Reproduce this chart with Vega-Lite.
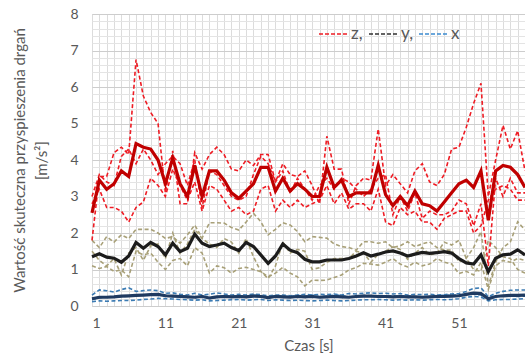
{
  "$schema": "https://vega.github.io/schema/vega-lite/v6.json",
  "width": 433,
  "height": 292,
  "autosize": {"type": "none"},
  "padding": {"left": 92, "top": 14, "right": 0, "bottom": 50},
  "background": "white",
  "config": {
    "font": "Lato",
    "view": {"stroke": "#d4d4d4", "strokeWidth": 1},
    "axis": {"labelColor": "#595959", "titleColor": "#595959", "labelFontSize": 14, "titleFontSize": 15, "titleFontWeight": "normal", "ticks": false, "domain": false}
  },
  "data": {"values": [
    {"t":1,"z1":1.8,"z2":3.0,"z3":2.8,"zm":2.55,"y1":1.8,"y2":1.5,"y3":1.1,"ym":1.35,"x1":0.3,"x2":0.18,"x3":0.12,"xm":0.2},
    {"t":2,"z1":3.55,"z2":3.6,"z3":3.2,"zm":3.45,"y1":1.6,"y2":1.25,"y3":1.03,"ym":1.43,"x1":0.44,"x2":0.22,"x3":0.14,"xm":0.24},
    {"t":3,"z1":3.55,"z2":3.4,"z3":2.7,"zm":3.2,"y1":1.9,"y2":1.1,"y3":1.08,"ym":1.34,"x1":0.42,"x2":0.25,"x3":0.13,"xm":0.24},
    {"t":4,"z1":4.2,"z2":3.3,"z3":2.7,"zm":3.35,"y1":1.75,"y2":1.3,"y3":0.95,"ym":1.31,"x1":0.38,"x2":0.24,"x3":0.14,"xm":0.25},
    {"t":5,"z1":4.35,"z2":4.1,"z3":2.6,"zm":3.7,"y1":1.95,"y2":0.85,"y3":0.99,"ym":1.2,"x1":0.45,"x2":0.26,"x3":0.15,"xm":0.27},
    {"t":6,"z1":4.15,"z2":4.3,"z3":2.3,"zm":3.55,"y1":1.85,"y2":1.45,"y3":0.8,"ym":1.37,"x1":0.5,"x2":0.27,"x3":0.15,"xm":0.28},
    {"t":7,"z1":6.75,"z2":3.9,"z3":2.7,"zm":4.45,"y1":2.1,"y2":1.6,"y3":1.5,"ym":1.74,"x1":0.4,"x2":0.3,"x3":0.16,"xm":0.29},
    {"t":8,"z1":5.75,"z2":4.3,"z3":2.85,"zm":4.35,"y1":2.1,"y2":1.25,"y3":1.4,"ym":1.58,"x1":0.42,"x2":0.31,"x3":0.18,"xm":0.3},
    {"t":9,"z1":5.3,"z2":4.0,"z3":3.5,"zm":4.3,"y1":2.1,"y2":1.65,"y3":1.45,"ym":1.74,"x1":0.44,"x2":0.3,"x3":0.19,"xm":0.31},
    {"t":10,"z1":5.0,"z2":3.6,"z3":3.3,"zm":4.0,"y1":2.0,"y2":1.7,"y3":1.2,"ym":1.63,"x1":0.42,"x2":0.33,"x3":0.21,"xm":0.32},
    {"t":11,"z1":3.1,"z2":3.9,"z3":3.0,"zm":3.35,"y1":1.85,"y2":1.3,"y3":1.0,"ym":1.4,"x1":0.35,"x2":0.29,"x3":0.2,"xm":0.28},
    {"t":12,"z1":4.25,"z2":4.1,"z3":3.75,"zm":4.05,"y1":1.9,"y2":2.0,"y3":1.25,"ym":1.72,"x1":0.36,"x2":0.26,"x3":0.19,"xm":0.27},
    {"t":13,"z1":2.8,"z2":3.9,"z3":3.3,"zm":3.35,"y1":1.72,"y2":1.45,"y3":1.3,"ym":1.49,"x1":0.32,"x2":0.28,"x3":0.18,"xm":0.26},
    {"t":14,"z1":2.8,"z2":3.3,"z3":2.9,"zm":3.0,"y1":1.95,"y2":1.7,"y3":1.1,"ym":1.58,"x1":0.3,"x2":0.27,"x3":0.17,"xm":0.25},
    {"t":15,"z1":4.2,"z2":4.0,"z3":3.4,"zm":3.85,"y1":2.22,"y2":2.1,"y3":1.6,"ym":1.97,"x1":0.35,"x2":0.22,"x3":0.16,"xm":0.24},
    {"t":16,"z1":3.75,"z2":2.7,"z3":2.6,"zm":3.0,"y1":1.86,"y2":1.85,"y3":1.45,"ym":1.72,"x1":0.3,"x2":0.28,"x3":0.17,"xm":0.26},
    {"t":17,"z1":4.15,"z2":3.7,"z3":3.3,"zm":3.7,"y1":2.28,"y2":1.7,"y3":0.9,"ym":1.63,"x1":0.32,"x2":0.2,"x3":0.14,"xm":0.22},
    {"t":18,"z1":4.35,"z2":3.6,"z3":3.2,"zm":3.7,"y1":2.28,"y2":1.6,"y3":1.1,"ym":1.67,"x1":0.36,"x2":0.24,"x3":0.15,"xm":0.25},
    {"t":19,"z1":4.15,"z2":3.3,"z3":2.9,"zm":3.45,"y1":2.27,"y2":1.85,"y3":1.05,"ym":1.72,"x1":0.33,"x2":0.28,"x3":0.16,"xm":0.26},
    {"t":20,"z1":3.75,"z2":3.0,"z3":2.6,"zm":3.1,"y1":2.15,"y2":1.75,"y3":0.9,"ym":1.6,"x1":0.3,"x2":0.27,"x3":0.17,"xm":0.25},
    {"t":21,"z1":3.7,"z2":2.9,"z3":2.7,"zm":2.95,"y1":2.08,"y2":1.45,"y3":1.03,"ym":1.52,"x1":0.32,"x2":0.28,"x3":0.18,"xm":0.26},
    {"t":22,"z1":4.0,"z2":3.0,"z3":2.5,"zm":3.15,"y1":2.3,"y2":1.85,"y3":1.06,"ym":1.74,"x1":0.3,"x2":0.27,"x3":0.16,"xm":0.25},
    {"t":23,"z1":3.85,"z2":3.6,"z3":2.6,"zm":3.35,"y1":2.54,"y2":1.35,"y3":1.0,"ym":1.63,"x1":0.33,"x2":0.3,"x3":0.17,"xm":0.27},
    {"t":24,"z1":4.15,"z2":4.1,"z3":3.2,"zm":3.8,"y1":2.31,"y2":0.95,"y3":0.94,"ym":1.4,"x1":0.31,"x2":0.28,"x3":0.18,"xm":0.26},
    {"t":25,"z1":4.15,"z2":3.9,"z3":3.3,"zm":3.8,"y1":1.95,"y2":0.75,"y3":0.8,"ym":1.17,"x1":0.28,"x2":0.24,"x3":0.15,"xm":0.23},
    {"t":26,"z1":3.4,"z2":3.4,"z3":2.6,"zm":3.15,"y1":2.1,"y2":1.1,"y3":0.9,"ym":1.37,"x1":0.3,"x2":0.29,"x3":0.17,"xm":0.26},
    {"t":27,"z1":3.9,"z2":3.7,"z3":2.9,"zm":3.5,"y1":2.28,"y2":1.75,"y3":1.06,"ym":1.7,"x1":0.3,"x2":0.27,"x3":0.16,"xm":0.25},
    {"t":28,"z1":3.6,"z2":3.1,"z3":2.7,"zm":3.15,"y1":2.22,"y2":1.45,"y3":0.9,"ym":1.53,"x1":0.28,"x2":0.26,"x3":0.15,"xm":0.24},
    {"t":29,"z1":3.55,"z2":3.5,"z3":2.9,"zm":3.35,"y1":2.04,"y2":1.55,"y3":0.8,"ym":1.46,"x1":0.3,"x2":0.29,"x3":0.16,"xm":0.26},
    {"t":30,"z1":3.7,"z2":3.2,"z3":2.7,"zm":3.2,"y1":1.76,"y2":1.5,"y3":0.55,"ym":1.28,"x1":0.32,"x2":0.27,"x3":0.15,"xm":0.25},
    {"t":31,"z1":3.3,"z2":2.9,"z3":2.8,"zm":3.0,"y1":1.9,"y2":1.0,"y3":0.71,"ym":1.21,"x1":0.3,"x2":0.3,"x3":0.14,"xm":0.26},
    {"t":32,"z1":2.8,"z2":3.3,"z3":2.9,"zm":3.0,"y1":1.88,"y2":1.05,"y3":0.7,"ym":1.21,"x1":0.32,"x2":0.25,"x3":0.15,"xm":0.24},
    {"t":33,"z1":4.65,"z2":3.5,"z3":3.3,"zm":3.8,"y1":1.86,"y2":1.2,"y3":0.71,"ym":1.26,"x1":0.31,"x2":0.27,"x3":0.16,"xm":0.25},
    {"t":34,"z1":3.75,"z2":3.2,"z3":2.8,"zm":3.25,"y1":1.7,"y2":1.3,"y3":0.78,"ym":1.26,"x1":0.33,"x2":0.3,"x3":0.15,"xm":0.26},
    {"t":35,"z1":3.75,"z2":3.5,"z3":3.1,"zm":3.45,"y1":1.63,"y2":1.3,"y3":0.85,"ym":1.26,"x1":0.3,"x2":0.29,"x3":0.14,"xm":0.25},
    {"t":36,"z1":2.8,"z2":3.4,"z3":2.65,"zm":3.0,"y1":1.6,"y2":1.3,"y3":0.99,"ym":1.3,"x1":0.34,"x2":0.24,"x3":0.15,"xm":0.24},
    {"t":37,"z1":3.3,"z2":3.2,"z3":2.8,"zm":3.1,"y1":1.53,"y2":1.5,"y3":1.05,"ym":1.37,"x1":0.33,"x2":0.28,"x3":0.16,"xm":0.26},
    {"t":38,"z1":3.5,"z2":3.0,"z3":2.8,"zm":3.1,"y1":1.76,"y2":1.45,"y3":1.17,"ym":1.46,"x1":0.35,"x2":0.29,"x3":0.17,"xm":0.27},
    {"t":39,"z1":3.45,"z2":3.2,"z3":2.6,"zm":3.1,"y1":1.76,"y2":1.2,"y3":1.15,"ym":1.37,"x1":0.36,"x2":0.28,"x3":0.17,"xm":0.27},
    {"t":40,"z1":4.85,"z2":3.5,"z3":3.2,"zm":3.85,"y1":1.72,"y2":1.42,"y3":1.12,"ym":1.42,"x1":0.34,"x2":0.26,"x3":0.18,"xm":0.26},
    {"t":41,"z1":3.3,"z2":3.6,"z3":2.3,"zm":3.05,"y1":1.76,"y2":1.5,"y3":1.2,"ym":1.48,"x1":0.35,"x2":0.27,"x3":0.17,"xm":0.26},
    {"t":42,"z1":3.6,"z2":2.5,"z3":2.2,"zm":2.75,"y1":1.6,"y2":1.62,"y3":1.3,"ym":1.51,"x1":0.33,"x2":0.28,"x3":0.16,"xm":0.25},
    {"t":43,"z1":3.35,"z2":3.0,"z3":2.7,"zm":3.0,"y1":1.65,"y2":1.55,"y3":1.15,"ym":1.45,"x1":0.34,"x2":0.27,"x3":0.17,"xm":0.26},
    {"t":44,"z1":3.1,"z2":2.6,"z3":2.5,"zm":2.75,"y1":1.76,"y2":1.28,"y3":1.07,"ym":1.37,"x1":0.3,"x2":0.28,"x3":0.16,"xm":0.25},
    {"t":45,"z1":3.7,"z2":3.1,"z3":2.6,"zm":3.15,"y1":1.63,"y2":1.45,"y3":1.2,"ym":1.42,"x1":0.32,"x2":0.26,"x3":0.17,"xm":0.25},
    {"t":46,"z1":3.9,"z2":2.4,"z3":2.3,"zm":2.8,"y1":1.7,"y2":1.6,"y3":1.1,"ym":1.47,"x1":0.31,"x2":0.25,"x3":0.16,"xm":0.24},
    {"t":47,"z1":3.4,"z2":2.6,"z3":2.3,"zm":2.75,"y1":1.76,"y2":1.4,"y3":1.15,"ym":1.44,"x1":0.32,"x2":0.26,"x3":0.17,"xm":0.25},
    {"t":48,"z1":3.3,"z2":2.5,"z3":2.1,"zm":2.6,"y1":1.6,"y2":1.45,"y3":1.3,"ym":1.46,"x1":0.3,"x2":0.29,"x3":0.18,"xm":0.26},
    {"t":49,"z1":3.6,"z2":2.5,"z3":2.4,"zm":2.85,"y1":1.53,"y2":1.75,"y3":1.2,"ym":1.49,"x1":0.31,"x2":0.29,"x3":0.17,"xm":0.26},
    {"t":50,"z1":4.3,"z2":2.6,"z3":2.5,"zm":3.1,"y1":1.53,"y2":1.67,"y3":1.15,"ym":1.45,"x1":0.33,"x2":0.3,"x3":0.18,"xm":0.27},
    {"t":51,"z1":4.35,"z2":2.9,"z3":2.6,"zm":3.35,"y1":1.21,"y2":1.8,"y3":0.89,"ym":1.3,"x1":0.34,"x2":0.3,"x3":0.2,"xm":0.28},
    {"t":52,"z1":4.9,"z2":2.8,"z3":2.6,"zm":3.45,"y1":1.31,"y2":1.3,"y3":0.95,"ym":1.18,"x1":0.4,"x2":0.33,"x3":0.24,"xm":0.32},
    {"t":53,"z1":5.55,"z2":2.2,"z3":2.0,"zm":3.25,"y1":1.6,"y2":1.0,"y3":0.85,"ym":1.15,"x1":0.48,"x2":0.32,"x3":0.26,"xm":0.35},
    {"t":54,"z1":6.1,"z2":2.8,"z3":2.2,"zm":3.7,"y1":2.04,"y2":0.95,"y3":1.2,"ym":1.4,"x1":0.5,"x2":0.3,"x3":0.25,"xm":0.34},
    {"t":55,"z1":3.0,"z2":1.1,"z3":2.9,"zm":2.35,"y1":0.55,"y2":1.8,"y3":0.45,"ym":0.94,"x1":0.25,"x2":0.22,"x3":0.14,"xm":0.2},
    {"t":56,"z1":4.0,"z2":3.5,"z3":3.2,"zm":3.7,"y1":1.2,"y2":1.6,"y3":1.1,"ym":1.31,"x1":0.35,"x2":0.27,"x3":0.17,"xm":0.26},
    {"t":57,"z1":4.95,"z2":3.0,"z3":3.3,"zm":3.85,"y1":1.6,"y2":1.35,"y3":1.25,"ym":1.4,"x1":0.4,"x2":0.27,"x3":0.18,"xm":0.28},
    {"t":58,"z1":4.3,"z2":3.5,"z3":3.2,"zm":3.8,"y1":1.75,"y2":1.3,"y3":1.2,"ym":1.42,"x1":0.43,"x2":0.28,"x3":0.18,"xm":0.29},
    {"t":59,"z1":4.8,"z2":3.1,"z3":2.9,"zm":3.6,"y1":2.31,"y2":1.0,"y3":1.3,"ym":1.54,"x1":0.44,"x2":0.26,"x3":0.19,"xm":0.29},
    {"t":60,"z1":3.7,"z2":3.1,"z3":2.9,"zm":3.25,"y1":2.08,"y2":0.9,"y3":1.25,"ym":1.4,"x1":0.44,"x2":0.27,"x3":0.2,"xm":0.3}
  ]},
  "transform": [{"fold": ["y1","y2","y3","x1","x2","x3","z1","z2","z3","ym","xm","zm"], "as": ["s", "v"]}],
  "encoding": {
    "x": {"field": "t", "type": "quantitative", "scale": {"domain": [1, 60], "nice": false, "zero": false},
      "axis": {"title": "Czas [s]", "values": [1,2,3,4,5,6,7,8,9,10,11,12,13,14,15,16,17,18,19,20,21,22,23,24,25,26,27,28,29,30,31,32,33,34,35,36,37,38,39,40,41,42,43,44,45,46,47,48,49,50,51,52,53,54,55,56,57,58,59,60],
        "labelExpr": "(datum.value - 1) % 10 == 0 ? datum.label : ''", "labelOverlap": false, "grid": true, "gridColor": "#dcdcdc", "labelPadding": 10, "titlePadding": 8}},
    "y": {"field": "v", "type": "quantitative", "scale": {"domain": [0, 8], "nice": false},
      "axis": {"title": ["Wartość skuteczna przyspieszenia drgań", "[m/s²]"], "titleLineHeight": 22, "titlePadding": 20,
        "values": [0,0.2,0.4,0.6,0.8,1,1.2,1.4,1.6,1.8,2,2.2,2.4,2.6,2.8,3,3.2,3.4,3.6,3.8,4,4.2,4.4,4.6,4.8,5,5.2,5.4,5.6,5.8,6,6.2,6.4,6.6,6.8,7,7.2,7.4,7.6,7.8,8],
        "labelExpr": "datum.value % 1 == 0 ? format(datum.value, 'd') : ''", "labelOverlap": false, "labelPadding": 14, "grid": true,
        "gridColor": {"condition": {"test": "datum.value % 1 == 0", "value": "#cdcdcd"}, "value": "#e4e4e4"}}}
  },
  "layer": [
    {
      "transform": [{"filter": "indexof(['z1','z2','z3','y1','y2','y3','x1','x2','x3'], datum.s) >= 0"}],
      "mark": {"type": "line", "strokeWidth": 1.6, "strokeDash": [4, 2.5]},
      "encoding": {
        "color": {"field": "s", "type": "nominal", "legend": null,
          "scale": {"domain": ["y1","y2","y3","x1","x2","x3","z1","z2","z3"], "range": ["#a8a078","#a8a078","#a8a078","#3b7bb3","#3b7bb3","#3b7bb3","#ee1c24","#ee1c24","#ee1c24"]}}
      }
    },
    {
      "transform": [{"filter": "indexof(['zm','ym','xm'], datum.s) >= 0"}],
      "mark": {"type": "line", "strokeWidth": 3.2},
      "encoding": {
        "color": {"field": "s", "type": "nominal", "legend": null,
          "scale": {"domain": ["ym","xm","zm"], "range": ["#1c1c1c","#1f3a60","#c00000"]}}
      }
    },
    {
      "transform": [{"filter": "indexof(['zm','ym','xm'], datum.s) >= 0"}],
      "mark": {"type": "line", "opacity": 0},
      "encoding": {
        "color": {"field": "s", "type": "nominal",
          "scale": {"domain": ["zm","ym","xm"], "range": ["#ee1c24","#303030","#3b8bd0"]},
          "legend": {"title": null, "orient": "none", "direction": "horizontal", "legendX": 226, "legendY": 4,
            "symbolType": "stroke", "symbolSize": 900, "symbolStrokeWidth": 1.6, "symbolDash": [4, 2], "symbolOpacity": 1,
            "labelFontSize": 17, "labelColor": "#595959", "labelOffset": 1, "columnPadding": 2,
            "labelExpr": "datum.label == 'zm' ? 'z,' : (datum.label == 'ym' ? 'y,' : 'x')"}}
      }
    }
  ],
  "resolve": {"scale": {"color": "independent"}}
}
